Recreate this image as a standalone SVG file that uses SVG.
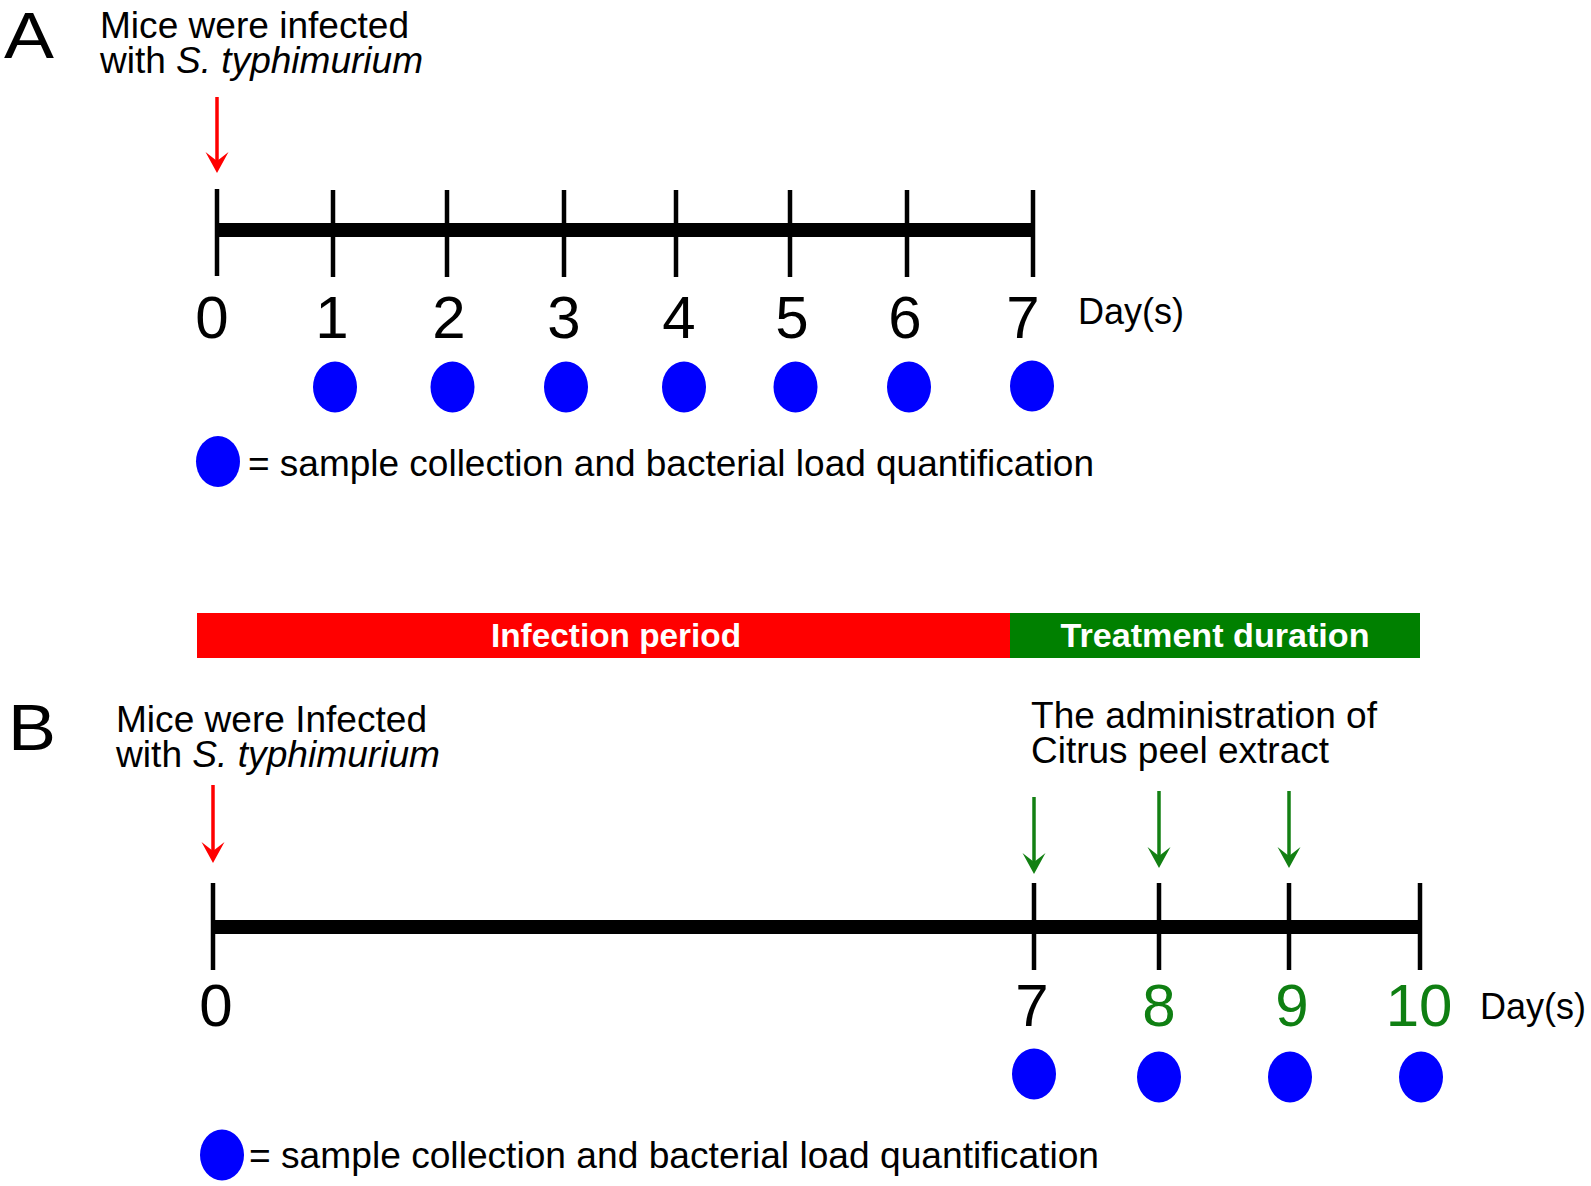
<svg xmlns="http://www.w3.org/2000/svg" width="1591" height="1186" viewBox="0 0 1591 1186">
<style>
  text { font-family: "Liberation Sans", Arial, Helvetica, sans-serif; fill: #000; }
  .panel { font-size: 64px; }
  .lbl { font-size: 37px; }
  .day { font-size: 36px; }
  .num { font-size: 60px; text-anchor: middle; }
  .gnum { fill: #0f7f12; }
  .bar { font-size: 34px; font-weight: bold; fill: #fff; text-anchor: middle; }
  .axis { stroke: #000; stroke-width: 14; }
  .tick { stroke: #000; stroke-width: 4.5; }
  .dot { fill: #0000ff; }
  .red { stroke: #ff0000; stroke-width: 3.5; fill: none; }
  .grn { stroke: #138013; stroke-width: 3.5; fill: none; }
</style>
<defs>
  <marker id="headRed" viewBox="0 -12 22 24" markerWidth="22" markerHeight="24" markerUnits="userSpaceOnUse" refX="15" refY="0" orient="auto">
    <path d="M0,-11.5 L21,0 L0,11.5 L9,0 Z" fill="#ff0000"/>
  </marker>
  <marker id="headGrn" viewBox="0 -12 22 24" markerWidth="22" markerHeight="24" markerUnits="userSpaceOnUse" refX="15" refY="0" orient="auto">
    <path d="M0,-11.5 L21,0 L0,11.5 L9,0 Z" fill="#138013"/>
  </marker>
</defs>
<rect width="1591" height="1186" fill="#fff"/>

<!-- Panel A -->
<g id="panelA-label"><text class="panel" x="4" y="58" textLength="50" lengthAdjust="spacingAndGlyphs">A</text></g>
<g id="infectA-label">
  <text class="lbl" x="100" y="38" textLength="309" lengthAdjust="spacingAndGlyphs">Mice were infected</text>
  <text class="lbl" x="100" y="73" textLength="323" lengthAdjust="spacingAndGlyphs">with <tspan font-style="italic">S. typhimurium</tspan></text>
</g>
<g id="timelineA">
  <line class="axis" x1="217" y1="230" x2="1033" y2="230"/>
  <line class="tick" x1="217" y1="189" x2="217" y2="276"/>
  <line class="tick" x1="333" y1="190" x2="333" y2="277"/>
  <line class="tick" x1="447" y1="190" x2="447" y2="277"/>
  <line class="tick" x1="564" y1="190" x2="564" y2="277"/>
  <line class="tick" x1="676" y1="190" x2="676" y2="277"/>
  <line class="tick" x1="790" y1="190" x2="790" y2="277"/>
  <line class="tick" x1="907" y1="190" x2="907" y2="277"/>
  <line class="tick" x1="1033" y1="190" x2="1033" y2="277"/>
</g>
<g id="daysA">
  <text class="num" x="212" y="338">0</text>
  <text class="num" x="332" y="338">1</text>
  <text class="num" x="449" y="338">2</text>
  <text class="num" x="564" y="338">3</text>
  <text class="num" x="679" y="338">4</text>
  <text class="num" x="792" y="338">5</text>
  <text class="num" x="905" y="338">6</text>
  <text class="num" x="1023" y="338">7</text>
  <text class="day" x="1078" y="324">Day(s)</text>
</g>
<g id="samplesA">
  <ellipse class="dot" cx="335" cy="387" rx="22" ry="25.5"/>
  <ellipse class="dot" cx="452.5" cy="387" rx="22" ry="25.5"/>
  <ellipse class="dot" cx="566" cy="387" rx="22" ry="25.5"/>
  <ellipse class="dot" cx="684" cy="387" rx="22" ry="25.5"/>
  <ellipse class="dot" cx="795.5" cy="387" rx="22" ry="25.5"/>
  <ellipse class="dot" cx="909" cy="387" rx="22" ry="25.5"/>
  <ellipse class="dot" cx="1032" cy="386" rx="22" ry="25.5"/>
</g>
<g id="legendA">
  <ellipse class="dot" cx="218" cy="461.5" rx="22" ry="25.5"/>
  <text class="lbl" x="248" y="476" textLength="846" lengthAdjust="spacingAndGlyphs">= sample collection and bacterial load quantification</text>
</g>

<!-- Period bar -->
<g id="infection-period">
  <rect x="197" y="613" width="813" height="45" fill="#ff0000"/>
  <text class="bar" x="616" y="647" font-size="33" textLength="250" lengthAdjust="spacingAndGlyphs">Infection period</text>
</g>
<g id="treatment-duration">
  <rect x="1010" y="613" width="410" height="45" fill="#008000"/>
  <text class="bar" x="1215" y="647" textLength="309" lengthAdjust="spacingAndGlyphs">Treatment duration</text>
</g>

<!-- Panel B -->
<g id="panelB-label"><text class="panel" x="8" y="750" textLength="48" lengthAdjust="spacingAndGlyphs">B</text></g>
<g id="infectB-label">
  <text class="lbl" x="116" y="732" textLength="311" lengthAdjust="spacingAndGlyphs">Mice were Infected</text>
  <text class="lbl" x="116" y="767" textLength="324" lengthAdjust="spacingAndGlyphs">with <tspan font-style="italic">S. typhimurium</tspan></text>
</g>
<g id="treatB-label">
  <text class="lbl" x="1031" y="728" textLength="346" lengthAdjust="spacingAndGlyphs">The administration of</text>
  <text class="lbl" x="1031" y="763" textLength="298" lengthAdjust="spacingAndGlyphs">Citrus peel extract</text>
</g>
<g id="timelineB">
  <line class="axis" x1="213" y1="927" x2="1420" y2="927"/>
  <line class="tick" x1="213" y1="883" x2="213" y2="970"/>
  <line class="tick" x1="1034" y1="883" x2="1034" y2="970"/>
  <line class="tick" x1="1159" y1="883" x2="1159" y2="970"/>
  <line class="tick" x1="1289" y1="883" x2="1289" y2="970"/>
  <line class="tick" x1="1420" y1="883" x2="1420" y2="970"/>
</g>
<g id="daysB">
  <text class="num" x="216" y="1026">0</text>
  <text class="num" x="1032" y="1026">7</text>
  <text class="num gnum" x="1159" y="1026">8</text>
  <text class="num gnum" x="1292" y="1026">9</text>
  <text class="num gnum" x="1419" y="1026">10</text>
  <text class="day" x="1480" y="1019">Day(s)</text>
</g>
<g id="samplesB">
  <ellipse class="dot" cx="1034" cy="1074" rx="22" ry="25.5"/>
  <ellipse class="dot" cx="1159" cy="1077" rx="22" ry="25.5"/>
  <ellipse class="dot" cx="1290" cy="1077" rx="22" ry="25.5"/>
  <ellipse class="dot" cx="1421" cy="1077" rx="22" ry="25.5"/>
</g>
<g id="legendB">
  <ellipse class="dot" cx="222" cy="1155" rx="22" ry="25.5"/>
  <text class="lbl" x="249" y="1168" textLength="850" lengthAdjust="spacingAndGlyphs">= sample collection and bacterial load quantification</text>
</g>

<!-- Connectors -->
<g id="connectors">
  <line class="red" x1="217" y1="97" x2="217" y2="167" marker-end="url(#headRed)"/>
  <line class="red" x1="213" y1="785" x2="213" y2="857" marker-end="url(#headRed)"/>
  <line class="grn" x1="1034" y1="797" x2="1034" y2="868" marker-end="url(#headGrn)"/>
  <line class="grn" x1="1159" y1="791" x2="1159" y2="862" marker-end="url(#headGrn)"/>
  <line class="grn" x1="1289" y1="791" x2="1289" y2="862" marker-end="url(#headGrn)"/>
</g>
</svg>
